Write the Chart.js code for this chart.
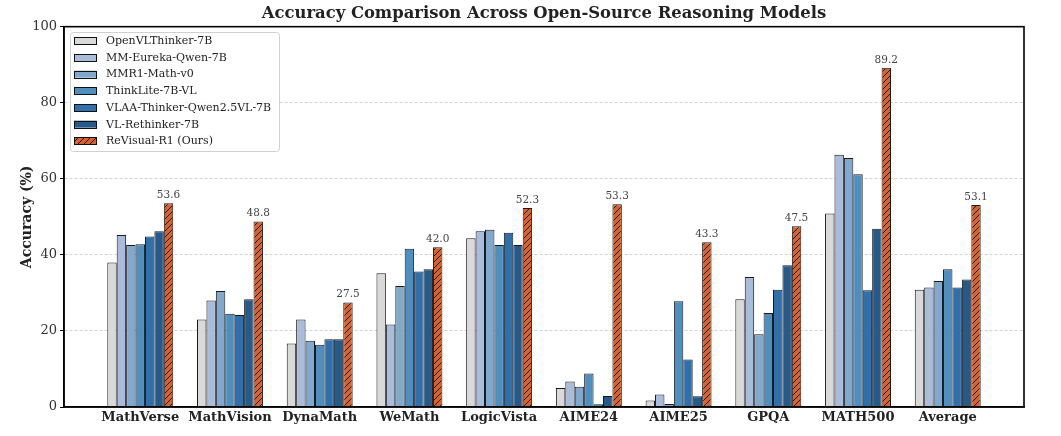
<!DOCTYPE html>
<html>
<head>
<meta charset="utf-8">
<script src="https://cdn.jsdelivr.net/npm/chart.js@4/dist/chart.umd.min.js"></script>
<style>
  html, body { margin: 0; padding: 0; background: #fff; }
  #wrap { width: 1061px; height: 436px; }
</style>
</head>
<body>
<div id="wrap"><canvas id="c" width="1061" height="436"></canvas></div>
<script>
const categories = ['MathVerse', 'MathVision', 'DynaMath', 'WeMath', 'LogicVista', 'AIME24', 'AIME25', 'GPQA', 'MATH500', 'Average'];
const seriesNames = ['OpenVLThinker-7B', 'MM-Eureka-Qwen-7B', 'MMR1-Math-v0', 'ThinkLite-7B-VL', 'VLAA-Thinker-Qwen2.5VL-7B', 'VL-Rethinker-7B', 'ReVisual-R1 (Ours)'];
const openVLThinker = [38.0, 23.0, 16.7, 35.2, 44.4, 5.0, 1.7, 28.3, 50.9, 30.8];
const mmEureka      = [45.2, 28.0, 23.0, 21.7, 46.2, 6.7, 3.3, 34.2, 66.3, 31.4];
const mmr1          = [42.6, 30.5, 17.4, 31.8, 46.6, 5.3, 0.8, 19.1, 65.5, 33.1];
const thinkLite     = [42.8, 24.5, 16.4, 41.6, 42.6, 8.8, 27.8, 24.7, 61.2, 36.2];
const vlaaThinker   = [44.8, 24.2, 17.8, 35.6, 45.8, 0.7, 12.5, 30.8, 30.7, 31.4];
const vlRethinker   = [46.2, 28.3, 17.8, 36.2, 42.6, 2.9, 2.8, 37.3, 46.9, 33.5];
const reVisualR1    = [53.6, 48.8, 27.5, 42.0, 52.3, 53.3, 43.3, 47.5, 89.2, 53.1];
const yTicks = [0, 20, 40, 60, 80, 100];

const seriesValues = [openVLThinker, mmEureka, mmr1, thinkLite, vlaaThinker, vlRethinker, reVisualR1];
const colors = ['#d9d9d9', '#aabcdb', '#80a9cd', '#4f8fbf', '#2f6fab', '#255a8a', '#d9622b'];
const SERIF = '"DejaVu Serif", "Liberation Serif", serif';

function makeHatch(bg) {
  const s = 6;
  const c = document.createElement('canvas');
  c.width = s; c.height = s;
  const g = c.getContext('2d');
  g.fillStyle = bg;
  g.fillRect(0, 0, s, s);
  g.strokeStyle = '#111';
  g.lineWidth = 0.9;
  g.beginPath();
  g.moveTo(0, s); g.lineTo(s, 0);
  g.moveTo(-s / 2, s / 2); g.lineTo(s / 2, -s / 2);
  g.moveTo(s / 2, s * 1.5); g.lineTo(s * 1.5, s / 2);
  g.stroke();
  return document.getElementById('c').getContext('2d').createPattern(c, 'repeat');
}
const hatch = makeHatch(colors[6]);

const datasets = seriesValues.map((vals, i) => ({
  label: seriesNames[i],
  data: vals,
  backgroundColor: i === 6 ? hatch : colors[i],
  borderColor: 'rgba(0,0,0,0.9)',
  borderWidth: 1,
  borderSkipped: 'start',
  barPercentage: 1.0,
  categoryPercentage: 0.735
}));

const framePlugin = {
  id: 'frameAndLabels',
  afterDatasetsDraw(chart) {
    const ctx = chart.ctx;
    const meta = chart.getDatasetMeta(6);
    ctx.save();
    ctx.font = '10.5px ' + SERIF;
    ctx.fillStyle = '#444';
    ctx.textAlign = 'center';
    ctx.textBaseline = 'alphabetic';
    meta.data.forEach((el, i) => {
      ctx.fillText(reVisualR1[i].toFixed(1), el.x, el.y - 5);
    });
    ctx.restore();
  },
  afterDraw(chart) {
    const ctx = chart.ctx;
    const a = chart.chartArea;
    ctx.save();
    ctx.strokeStyle = '#000';
    ctx.lineWidth = 1.6;
    ctx.strokeRect(a.left, a.top, a.right - a.left, a.bottom - a.top);
    // legend
    const lx = 70, ly = 32, lw = 209, lh = 119;
    ctx.fillStyle = 'rgba(255,255,255,0.85)';
    ctx.strokeStyle = '#d0d0d0';
    ctx.lineWidth = 1;
    ctx.beginPath();
    if (ctx.roundRect) ctx.roundRect(lx + 0.5, ly + 0.5, lw, lh, 3); else ctx.rect(lx + 0.5, ly + 0.5, lw, lh);
    ctx.fill();
    ctx.stroke();
    ctx.font = '11px ' + SERIF;
    ctx.textBaseline = 'middle';
    ctx.textAlign = 'left';
    chart.data.datasets.forEach((ds, i) => {
      const cy = 40.8 + i * 16.67;
      ctx.fillStyle = ds.backgroundColor;
      ctx.fillRect(74, cy - 3.5, 22.5, 7);
      ctx.strokeStyle = '#111';
      ctx.lineWidth = 1;
      ctx.strokeRect(74.5, Math.round(cy - 3.5) + 0.5, 22, 7);
      ctx.fillStyle = '#222';
      ctx.fillText(ds.label, 106, cy + 0.5);
    });
    ctx.restore();
  }
};

new Chart(document.getElementById('c'), {
  type: 'bar',
  data: { labels: categories.map((_, i) => i), datasets },
  options: {
    responsive: false,
    animation: false,
    layout: { padding: { left: 0, right: 37, top: 0, bottom: 0 } },
    plugins: {
      legend: { display: false },
      tooltip: { enabled: false },
      title: {
        display: true,
        fullSize: false,
        text: 'Accuracy Comparison Across Open-Source Reasoning Models',
        color: '#222',
        font: { family: SERIF, size: 16.4, weight: 'bold' },
        padding: { top: 4, bottom: 3 }
      }
    },
    scales: {
      x: {
        type: 'linear',
        min: -0.85,
        max: 9.85,
        offset: false,
        grid: { display: false, offset: false },
        border: { display: true, color: '#000', width: 1.6 },
        afterBuildTicks(scale) { scale.ticks = categories.map((_, i) => ({ value: i })); },
        afterFit(scale) { scale.height = 29; },
        ticks: {
          autoSkip: false,
          maxRotation: 0,
          padding: -5,
          color: '#222',
          font: { family: SERIF, size: 13, weight: 'bold' },
          callback: (v) => categories[v]
        }
      },
      y: {
        min: 0,
        max: 100,
        afterBuildTicks(scale) { scale.ticks = yTicks.map(v => ({ value: v })); },
        afterFit(scale) { scale.width = 64; },
        grid: {
          display: true,
          color: (c) => (c.tick && (c.tick.value === 0 || c.tick.value === 100)) ? 'rgba(0,0,0,0)' : '#c8c8c8',
          lineWidth: 0.8,
          drawTicks: true,
          tickLength: 4,
          tickColor: '#000',
          tickWidth: 1,
          tickBorderDash: []
        },
        border: { display: true, color: '#000', width: 1.6, dash: [3, 2] },
        ticks: {
          padding: 3,
          color: '#333',
          font: { family: SERIF, size: 13 }
        },
        title: {
          display: true,
          text: 'Accuracy (%)',
          color: '#222',
          font: { family: SERIF, size: 14, weight: 'bold' },
          padding: { top: 19, bottom: 0 }
        }
      }
    }
  },
  plugins: [framePlugin]
});
</script>
</body>
</html>
